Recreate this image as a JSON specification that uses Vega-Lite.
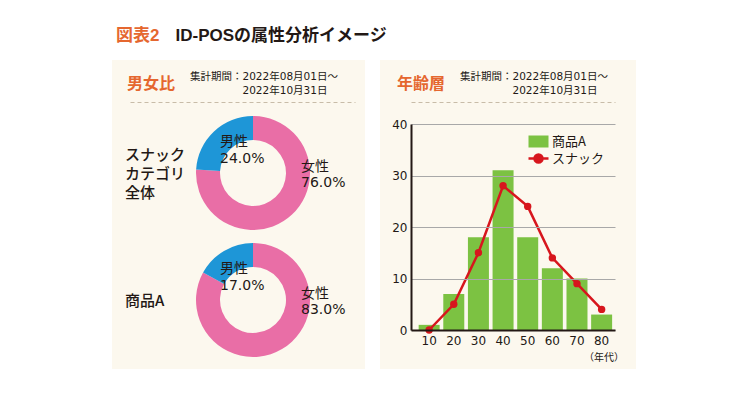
{
  "$schema": "https://vega.github.io/schema/vega-lite/v6.json",
  "background": "white",
  "padding": {"left": 112, "top": 27, "right": 5, "bottom": 5},
  "title": {
    "text": "図表2",
    "subtitle": "\u200b\u3000\u3000\u3000\u2002ID-POSの属性分析イメージ",
    "anchor": "start",
    "frame": "bounds",
    "dx": 4,
    "offset": 15,
    "font": "Liberation Sans, Noto Sans CJK JP",
    "fontSize": 17,
    "fontWeight": "bold",
    "color": "#e5672f",
    "subtitleFont": "Liberation Sans, Noto Sans CJK JP",
    "subtitleFontSize": 17,
    "subtitleFontWeight": "bold",
    "subtitleColor": "#231815",
    "subtitlePadding": -17
  },
  "spacing": 15,
  "hconcat": [
    {
      "width": 253,
      "height": 309,
      "view": {"fill": "#fcf8ee", "stroke": null},
      "title": {
        "text": "男女比",
        "subtitle": ["\u200b\u3000\u3000\u3000\u3000\u3000\u3000集計期間：2022年08月01日～", "\u200b\u3000\u3000\u3000\u3000\u3000\u3000\u3000\u3000\u3000\u3000\u30002022年10月31日"],
        "anchor": "start",
        "frame": "group",
        "orient": "top",
        "offset": -40,
        "dx": 15,
        "font": "Noto Sans CJK JP",
        "fontSize": 16,
        "fontWeight": "bold",
        "color": "#e5672f",
        "subtitleFont": "DejaVu Sans, Noto Sans CJK JP",
        "subtitleFontSize": 10.5,
        "subtitleColor": "#231815",
        "subtitleLineHeight": 14,
        "subtitlePadding": -20
      },
      "data": {
        "values": [
          {"group": "スナック\nカテゴリ\n全体", "sex": "女性", "share": 0.76},
          {"group": "スナック\nカテゴリ\n全体", "sex": "男性", "share": 0.24},
          {"group": "商品A", "sex": "女性", "share": 0.83},
          {"group": "商品A", "sex": "男性", "share": 0.17}
        ]
      },
      "transform": [
        {"stack": "share", "groupby": ["group"], "sort": [{"field": "sex", "order": "ascending"}], "as": ["start", "end"]}
      ],
      "encoding": {
        "x": {
          "datum": "donut",
          "type": "nominal",
          "scale": {"type": "point", "domain": ["label", "donut"], "range": [18, 243], "padding": 0.4146, "align": 0},
          "axis": {"orient": "top", "offset": -42, "labels": false, "ticks": false, "title": null, "domainColor": "#c8bca8", "domainDash": [4, 3], "domainWidth": 1}
        },
        "y": {
          "field": "group",
          "type": "nominal",
          "scale": {"type": "point", "domain": ["スナック\nカテゴリ\n全体", "商品A"], "range": [113, 240], "padding": 0},
          "axis": null
        }
      },
      "layer": [
        {
          "mark": {"type": "arc", "outerRadius": 57, "innerRadius": 33},
          "encoding": {
            "theta": {"field": "start", "type": "quantitative", "scale": {"domain": [0, 1]}},
            "theta2": {"field": "end"},
            "color": {"field": "sex", "type": "nominal", "scale": {"domain": ["女性", "男性"], "range": ["#e96ea6", "#1e96d7"]}, "legend": null}
          }
        },
        {
          "transform": [{"filter": "datum.sex === '男性'"}],
          "mark": {"type": "text", "align": "left", "baseline": "middle", "dx": -33, "dy": -31, "fontSize": 14},
          "encoding": {"text": {"field": "sex", "type": "nominal"}}
        },
        {
          "transform": [{"filter": "datum.sex === '男性'"}],
          "mark": {"type": "text", "align": "left", "baseline": "middle", "dx": -33, "dy": -14, "fontSize": 14},
          "encoding": {"text": {"field": "share", "type": "quantitative", "format": ".1%"}}
        },
        {
          "transform": [{"filter": "datum.sex === '女性'"}],
          "mark": {"type": "text", "align": "left", "baseline": "middle", "dx": 48, "dy": -6, "fontSize": 14},
          "encoding": {"text": {"field": "sex", "type": "nominal"}}
        },
        {
          "transform": [{"filter": "datum.sex === '女性'"}],
          "mark": {"type": "text", "align": "left", "baseline": "middle", "dx": 48, "dy": 10, "fontSize": 14},
          "encoding": {"text": {"field": "share", "type": "quantitative", "format": ".1%"}}
        },
        {
          "transform": [{"filter": "datum.sex === '女性' && datum.group !== '商品A'"}],
          "mark": {"type": "text", "align": "left", "baseline": "middle", "dx": -5, "dy": -18, "lineBreak": "\n", "lineHeight": 19, "fontSize": 15, "fontWeight": 500, "font": "Noto Sans CJK JP, DejaVu Sans"},
          "encoding": {
            "x": {"datum": "label", "type": "nominal"},
            "text": {"field": "group", "type": "nominal"}
          }
        },
        {
          "transform": [{"filter": "datum.sex === '女性' && datum.group === '商品A'"}],
          "mark": {"type": "text", "align": "left", "baseline": "middle", "dx": -5, "dy": 1, "fontSize": 15, "fontWeight": 500, "font": "Noto Sans CJK JP, DejaVu Sans"},
          "encoding": {
            "x": {"datum": "label", "type": "nominal"},
            "text": {"field": "group", "type": "nominal"}
          }
        }
      ]
    },
    {
      "width": 256,
      "height": 309,
      "view": {"fill": "#fcf8ee", "stroke": null},
      "title": {
        "text": "年齢層",
        "subtitle": ["\u200b\u3000\u3000\u3000\u3000\u3000\u3000集計期間：2022年08月01日～", "\u200b\u3000\u3000\u3000\u3000\u3000\u3000\u3000\u3000\u3000\u3000\u30002022年10月31日"],
        "anchor": "start",
        "frame": "group",
        "orient": "top",
        "offset": -40,
        "dx": 17,
        "font": "Noto Sans CJK JP",
        "fontSize": 16,
        "fontWeight": "bold",
        "color": "#e5672f",
        "subtitleFont": "DejaVu Sans, Noto Sans CJK JP",
        "subtitleFontSize": 10.5,
        "subtitleColor": "#231815",
        "subtitleLineHeight": 14,
        "subtitlePadding": -20
      },
      "data": {
        "values": [
          {"age": 10, "product": 1, "snack": 0},
          {"age": 20, "product": 7, "snack": 5},
          {"age": 30, "product": 18, "snack": 15},
          {"age": 40, "product": 31, "snack": 28},
          {"age": 50, "product": 18, "snack": 24},
          {"age": 60, "product": 12, "snack": 14},
          {"age": 70, "product": 10, "snack": 9},
          {"age": 80, "product": 3, "snack": 4}
        ]
      },
      "layer": [
        {
          "mark": {"type": "bar"},
          "encoding": {
            "x": {
              "field": "age",
              "type": "ordinal",
              "scale": {"type": "band", "range": [31, 235], "paddingInner": 0.148, "paddingOuter": 0.2135, "align": 0.727},
              "axis": {
                "orient": "bottom", "offset": -39, "domainColor": "#231815", "domainWidth": 2, "ticks": false,
                "labelAngle": 0, "labelPadding": 5, "labelFontSize": 12, "labelColor": "#231815", "labelFont": "DejaVu Sans",
                "title": "（年代）", "titleFont": "Noto Sans CJK JP", "titleFontSize": 10, "titleFontWeight": "normal", "titleColor": "#231815",
                "titleX": 223.5, "titleY": 27, "titleBaseline": "middle", "titleAlign": "center", "zindex": 1
              }
            },
            "y": {
              "field": "product",
              "type": "quantitative",
              "scale": {"domain": [0, 40], "range": [270, 64], "nice": false},
              "axis": {
                "offset": -31, "values": [0, 10, 20, 30, 40], "grid": true, "gridColor": "#a8a8a8", "gridWidth": 1,
                "domainColor": "#231815", "domainWidth": 2, "ticks": false, "labelPadding": 4, "labelFontSize": 12,
                "labelColor": "#231815", "labelFont": "DejaVu Sans", "title": null, "zindex": 1
              }
            },
            "color": {
              "datum": "商品A",
              "type": "nominal",
              "scale": {"domain": ["商品A", "スナック"], "range": ["#7cc242", "#d7161d"]},
              "legend": {
                "orient": "none", "legendX": 152, "legendY": 75, "title": null,
                "labelFont": "Noto Sans CJK JP", "labelFontSize": 13, "labelColor": "#231815", "labelOffset": 7,
                "symbolSize": 256, "rowPadding": 0, "padding": 0,
                "encode": {
                  "symbols": {
                    "update": {
                      "shape": {"signal": "datum.value === 'スナック' ? 'M-1.25,0H1.25M-0.5,0A0.5,0.5,0,1,1,0.5,0A0.5,0.5,0,1,1,-0.5,0Z' : 'M-1.25,-0.75H1.25V0.75H-1.25Z'"},
                      "fill": {"signal": "datum.value === 'スナック' ? '#d7161d' : '#7cc242'"},
                      "stroke": {"signal": "datum.value === 'スナック' ? '#d7161d' : '#7cc242'"},
                      "strokeWidth": {"signal": "datum.value === 'スナック' ? 2.5 : 0"},
                      "size": {"value": 256},
                      "opacity": {"value": 1}
                    }
                  }
                }
              }
            }
          }
        },
        {
          "mark": {"type": "line", "strokeWidth": 2.5, "point": {"filled": true, "size": 55}},
          "encoding": {
            "x": {
              "field": "age",
              "type": "ordinal",
              "axis": {"orient": "top", "offset": -42, "labels": false, "ticks": false, "title": null, "domainColor": "#c8bca8", "domainDash": [4, 3], "domainWidth": 1}
            },
            "y": {"field": "snack", "type": "quantitative", "axis": null},
            "color": {"datum": "スナック", "type": "nominal"}
          }
        }
      ],
      "resolve": {"axis": {"x": "independent", "y": "independent"}}
    }
  ],
  "resolve": {"scale": {"color": "independent"}, "legend": {"color": "independent"}},
  "config": {
    "view": {"stroke": null},
    "text": {"font": "DejaVu Sans, Noto Sans CJK JP", "color": "#231815"}
  }
}
